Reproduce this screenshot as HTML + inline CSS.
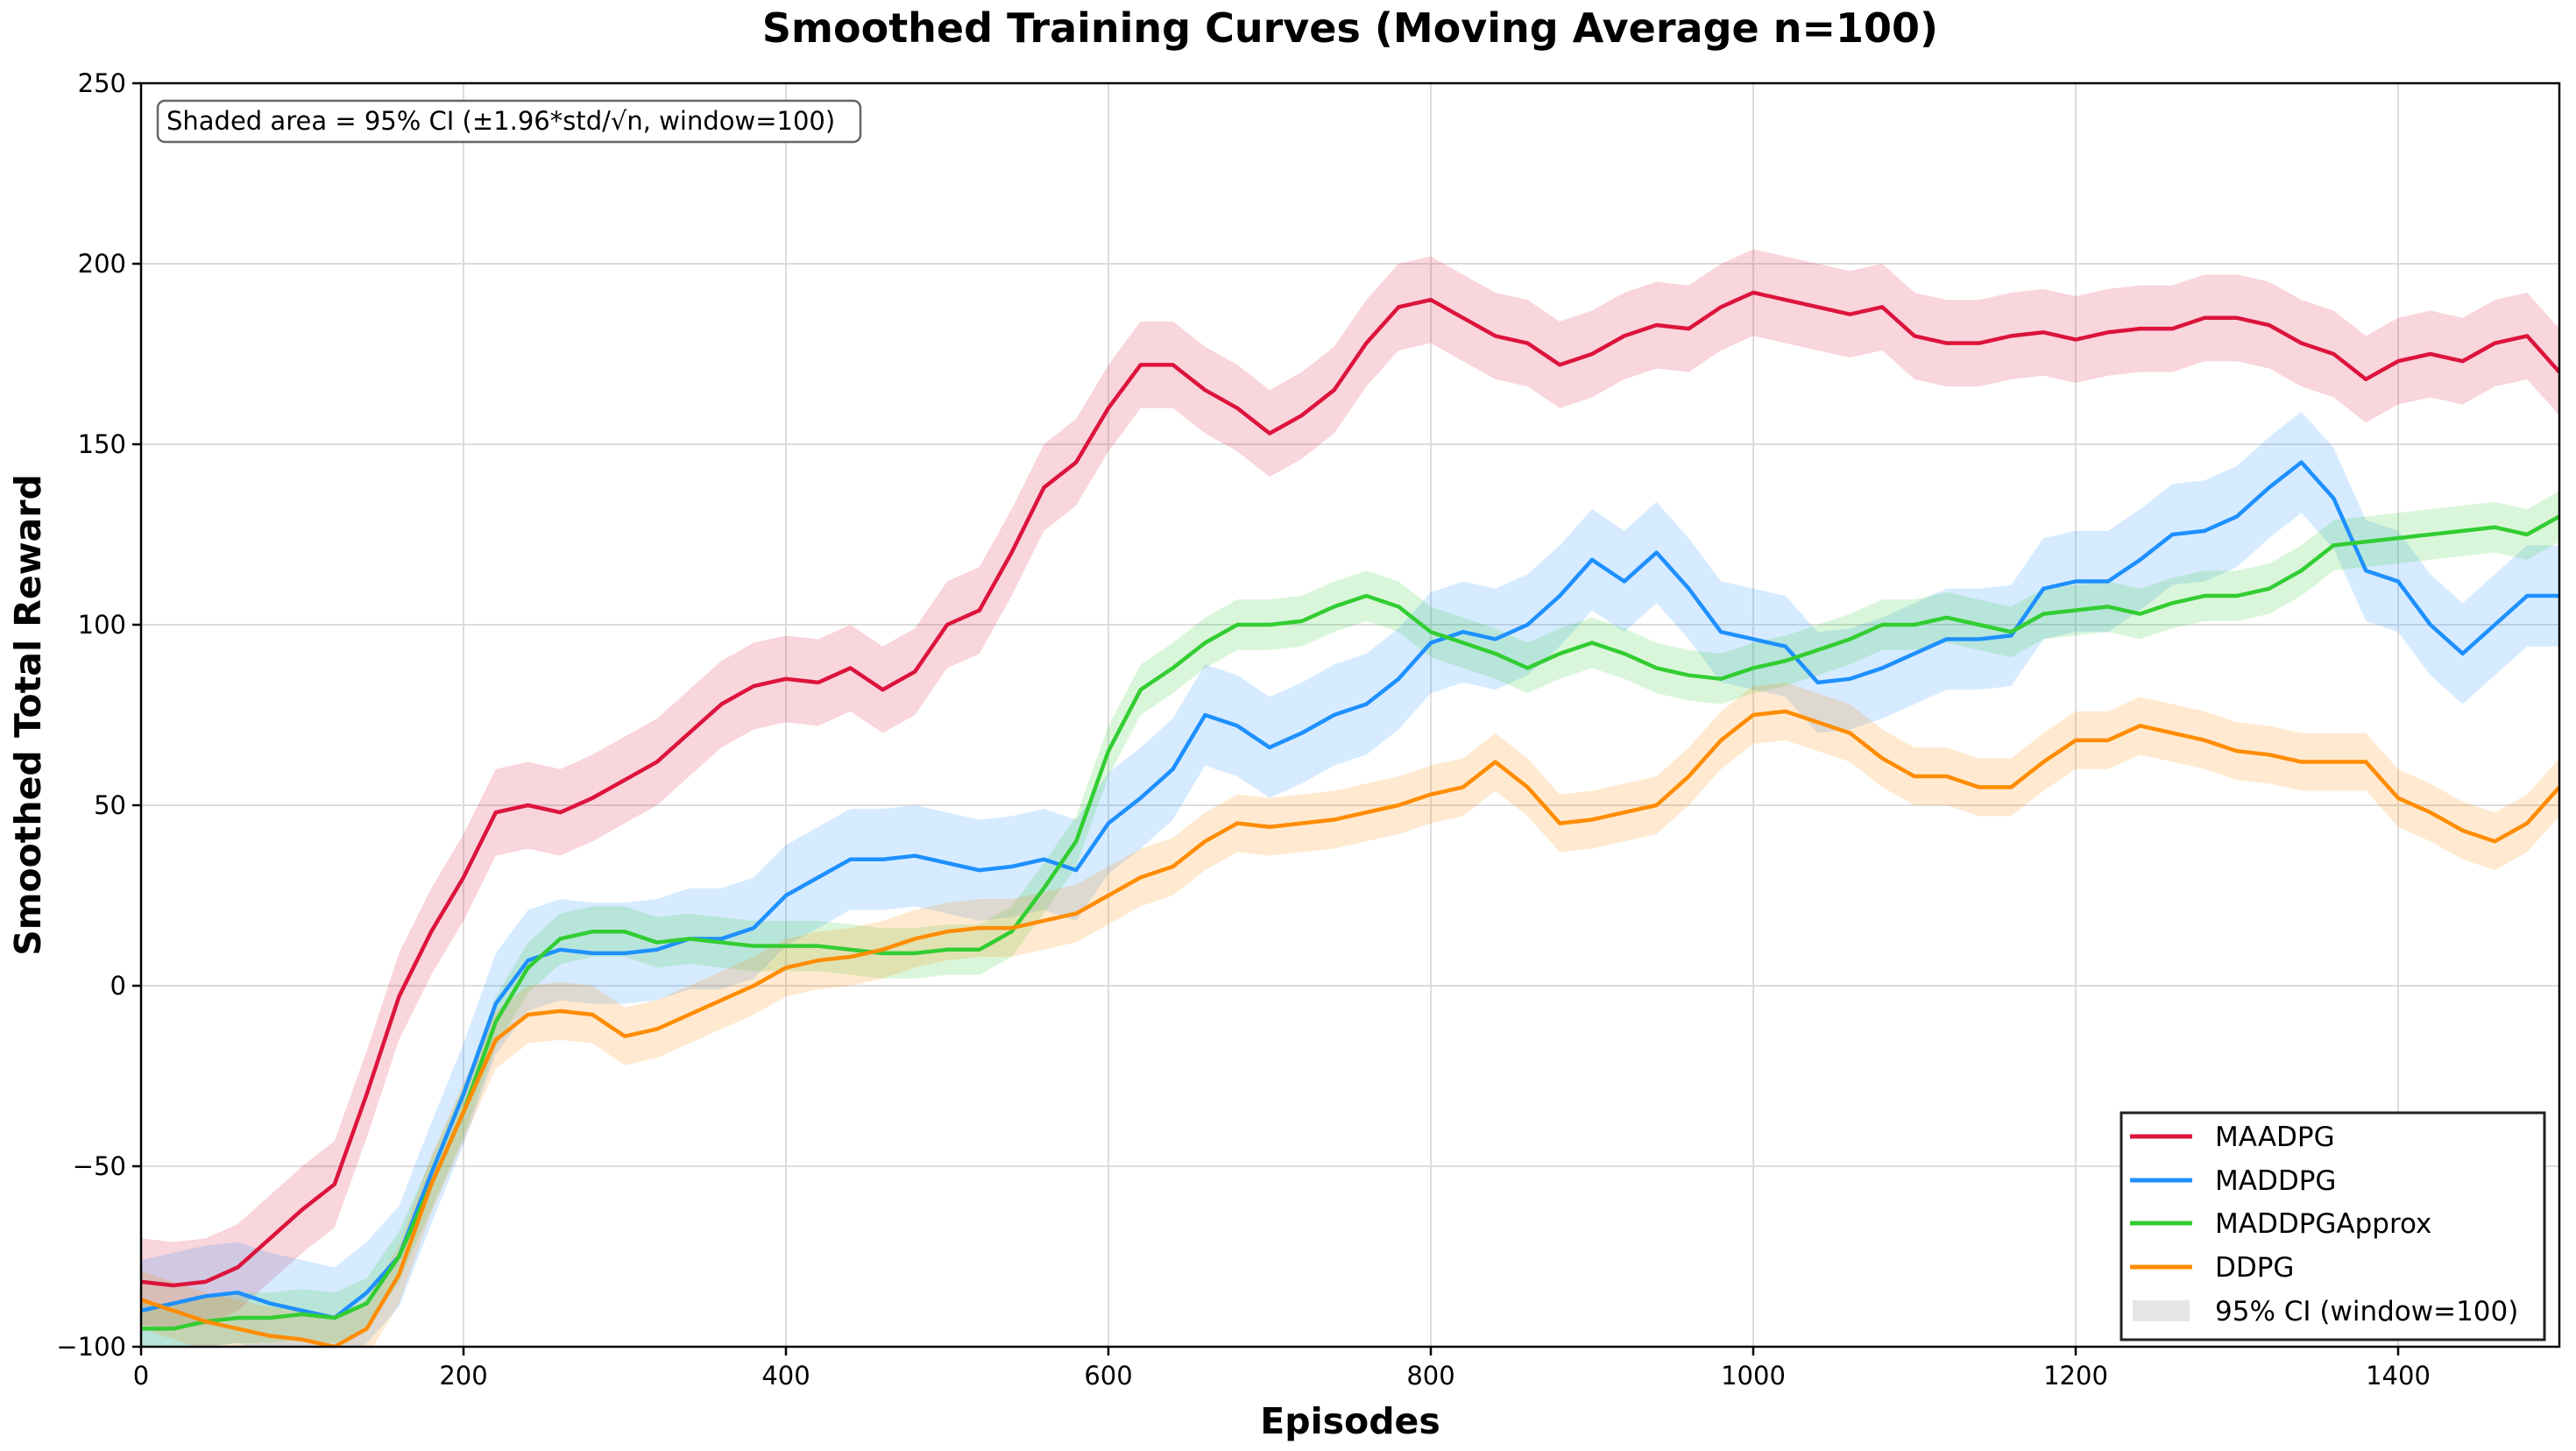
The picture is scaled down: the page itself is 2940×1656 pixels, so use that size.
<!DOCTYPE html>
<html><head><meta charset="utf-8"><style>
html,body{margin:0;padding:0;background:#fff;}
svg{display:block;font-family:"DejaVu Sans","Liberation Sans",sans-serif;}
</style></head><body>
<svg id="chart" width="2940" height="1656" viewBox="0 0 2940 1656" xmlns="http://www.w3.org/2000/svg">
<rect width="2940" height="1656" fill="#fff"/>
<text x="1541" y="48" text-anchor="middle" font-size="46" font-weight="bold">Smoothed Training Curves (Moving Average n=100)</text>
<g id="grid"></g>
<defs><clipPath id="pc"><rect x="161" y="95" width="2760" height="1442"/></clipPath></defs>
<g id="bands" clip-path="url(#pc)"></g>
<g id="lines" clip-path="url(#pc)"></g>
<rect x="161" y="95" width="2760" height="1442" fill="none" stroke="#000" stroke-width="2.5"/>
<g id="ticks"></g>
<text x="1541" y="1636" text-anchor="middle" font-size="41" font-weight="bold">Episodes</text>
<text transform="translate(46,816) rotate(-90)" text-anchor="middle" font-size="41" font-weight="bold">Smoothed Total Reward</text>
<g>
<rect x="180" y="115" width="802" height="47" rx="8" fill="#fff" stroke="#666" stroke-width="2.5"/>
<text x="190" y="148" font-size="29">Shaded area = 95% CI (±1.96*std/√n, window=100)</text>
</g>
<g>
<rect x="2421" y="1270" width="483" height="259" fill="#fff" stroke="#222" stroke-width="3"/>
<g><line x1="2431" y1="1297" x2="2502" y2="1297" stroke="#dc143c" stroke-width="5"/><text x="2528" y="1308" font-size="31">MAADPG</text></g>
<g><line x1="2431" y1="1347" x2="2502" y2="1347" stroke="#1e90ff" stroke-width="5"/><text x="2528" y="1358" font-size="31">MADDPG</text></g>
<g><line x1="2431" y1="1396" x2="2502" y2="1396" stroke="#32cd32" stroke-width="5"/><text x="2528" y="1407" font-size="31">MADDPGApprox</text></g>
<g><line x1="2431" y1="1446" x2="2502" y2="1446" stroke="#ff8c00" stroke-width="5"/><text x="2528" y="1457" font-size="31">DDPG</text></g>
<g><rect x="2434" y="1484" width="65" height="24" fill="#e6e6e6"/><text x="2528" y="1507" font-size="31">95% CI (window=100)</text></g>
</g>
</svg>
<script>
const episodes=[0,20,40,60,80,100,120,140,160,180,200,220,240,260,280,300,320,340,360,380,400,420,440,460,480,500,520,540,560,580,600,620,640,660,680,700,720,740,760,780,800,820,840,860,880,900,920,940,960,980,1000,1020,1040,1060,1080,1100,1120,1140,1160,1180,1200,1220,1240,1260,1280,1300,1320,1340,1360,1380,1400,1420,1440,1460,1480,1500];
const maadpg=[-82,-83,-82,-78,-70,-62,-55,-30,-3,15,30,48,50,48,52,57,62,70,78,83,85,84,88,82,87,100,104,120,138,145,160,172,172,165,160,153,158,165,178,188,190,185,180,178,172,175,180,183,182,188,192,190,188,186,188,180,178,178,180,181,179,181,182,182,185,185,183,178,175,168,173,175,173,178,180,170];
const maddpg=[-90,-88,-86,-85,-88,-90,-92,-85,-75,-52,-30,-5,7,10,9,9,10,13,13,16,25,30,35,35,36,34,32,33,35,32,45,52,60,75,72,66,70,75,78,85,95,98,96,100,108,118,112,120,110,98,96,94,84,85,88,92,96,96,97,110,112,112,118,125,126,130,138,145,135,115,112,100,92,100,108,108];
const maddpgApprox=[-95,-95,-93,-92,-92,-91,-92,-88,-75,-55,-35,-10,5,13,15,15,12,13,12,11,11,11,10,9,9,10,10,15,27,40,65,82,88,95,100,100,101,105,108,105,98,95,92,88,92,95,92,88,86,85,88,90,93,96,100,100,102,100,98,103,104,105,103,106,108,108,110,115,122,123,124,125,126,127,125,130];
const ddpg=[-87,-90,-93,-95,-97,-98,-100,-95,-80,-55,-35,-15,-8,-7,-8,-14,-12,-8,-4,0,5,7,8,10,13,15,16,16,18,20,25,30,33,40,45,44,45,46,48,50,53,55,62,55,45,46,48,50,58,68,75,76,73,70,63,58,58,55,55,62,68,68,72,70,68,65,64,62,62,62,52,48,43,40,45,55];
const ciHalf=[12,14,7,8];
const yTicks=[-100,-50,0,50,100,150,200,250];
const xTicks=[0,200,400,600,800,1000,1200,1400];
const names=['maadpg','maddpg','maddpgapprox','ddpg'];
const colors=['#dc143c','#1e90ff','#32cd32','#ff8c00'];
const series=[maadpg,maddpg,maddpgApprox,ddpg];
const L=161,R=2921,T=95,B=1537;
const xs=v=>L+(v-0)/1500*(R-L);
const ys=v=>B-(v+100)/350*(B-T);
const NS='http://www.w3.org/2000/svg';
function mk(tag,attrs,parent){const e=document.createElementNS(NS,tag);for(const k in attrs)e.setAttribute(k,attrs[k]);parent.appendChild(e);return e;}
const grid=document.getElementById('grid'),ticks=document.getElementById('ticks');
yTicks.forEach(t=>{
  const g=mk('line',{x1:L,x2:R,y1:ys(t),y2:ys(t),stroke:'#dcdcdc','stroke-width':2},grid);
  
  
  mk('line',{x1:L-10,x2:L,y1:ys(t),y2:ys(t),stroke:'#000','stroke-width':2.5},ticks);
  const tx=mk('text',{x:L-17,y:ys(t)+10,'text-anchor':'end','font-size':29},ticks);
  tx.textContent=t<0?'\u2212'+Math.abs(t):String(t);
  
  
});
xTicks.forEach(t=>{
  const g=mk('line',{x1:xs(t),x2:xs(t),y1:T,y2:B,stroke:'#dcdcdc','stroke-width':2},grid);
  
  
  mk('line',{x1:xs(t),x2:xs(t),y1:B,y2:B+10,stroke:'#000','stroke-width':2.5},ticks);
  const tx=mk('text',{x:xs(t),y:B+43,'text-anchor':'middle','font-size':29},ticks);
  tx.textContent=String(t);
  
  
});
const bands=document.getElementById('bands'),lines=document.getElementById('lines');
series.forEach((s,i)=>{
  const h=ciHalf[i];
  let up=episodes.map((e,j)=>xs(e)+','+ys(s[j]+h));
  let lo=episodes.map((e,j)=>xs(e)+','+ys(s[j]-h)).reverse();
  const b=mk('polygon',{points:up.concat(lo).join(' '),fill:colors[i],'fill-opacity':0.18},bands);
  
  
});
series.forEach((s,i)=>{
  const p=mk('polyline',{points:episodes.map((e,j)=>xs(e)+','+ys(s[j])).join(' '),fill:'none',stroke:colors[i],'stroke-width':4.5,'stroke-linejoin':'round'},lines);
  
  
});
</script>
</body></html>
